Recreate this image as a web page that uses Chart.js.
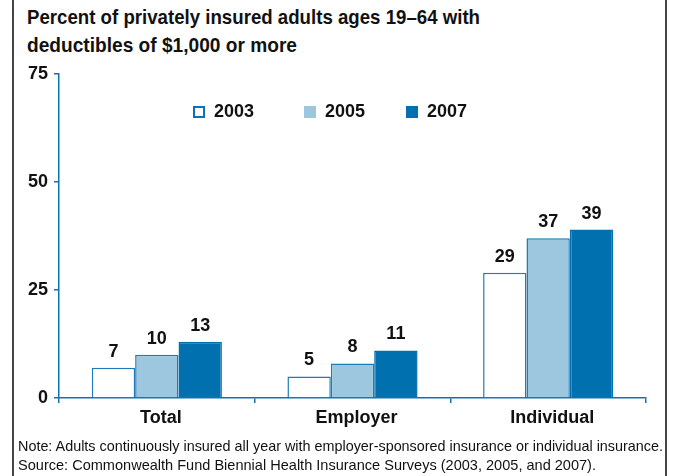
<!DOCTYPE html>
<html>
<head>
<meta charset="utf-8">
<script src="https://cdn.jsdelivr.net/npm/chart.js@4"></script>
<style>
  body { margin: 0; background: #fff; }
  #wrap { position: relative; width: 673px; height: 476px; overflow: hidden; }
  #frame { position: absolute; left: 12px; top: 0; width: 651px; height: 476px;
           border-left: 2px solid #444; border-right: 2px solid #444; }
  #chart { position: absolute; left: 0; top: 0; }
  .title { position: absolute; left: 27px; font: bold 21px "Liberation Sans", sans-serif; color: #111;
           white-space: nowrap; transform-origin: 0 0; }
  .note { position: absolute; left: 18px; font: 15px "Liberation Sans", sans-serif; color: #111;
          white-space: nowrap; transform-origin: 0 0; }
  .leg { position: absolute; top: 101px; font: bold 18px "Liberation Sans", sans-serif; color: #111; }
  .leg span.box { position: absolute; top: 5px; width: 12px; height: 12px; box-sizing: border-box; }
  .leg span.lbl { position: absolute; left: 21px; top: 0; }
</style>
</head>
<body>
<div id="wrap">
  <div id="frame"></div>
  <div class="title" style="top:5px" data-w="453">Percent of privately insured adults ages 19–64 with</div>
  <div class="title" style="top:33px" data-w="270">deductibles of $1,000 or more</div>
  <canvas id="chart" width="673" height="476"></canvas>
  <div id="legend"></div>
  <div class="note" style="top:437px" data-w="645">Note: Adults continuously insured all year with employer-sponsored insurance or individual insurance.</div>
  <div class="note" style="top:456px" data-w="578">Source: Commonwealth Fund Biennial Health Insurance Surveys (2003, 2005, and 2007).</div>
</div>
<script>
const categories = ['Total', 'Employer', 'Individual'];
const years = ['2003', '2005', '2007'];
const values2003 = [7, 5, 29];
const values2005 = [10, 8, 37];
const values2007 = [13, 11, 39];
const yTicks = [0, 25, 50, 75];

const axisBlue = '#1172b3';
const fills = ['#ffffff', '#9cc7df', '#0070ae'];
const borders = ['#1f7ab8', '#1f7ab8', '#0070ae'];
const series = [values2003, values2005, values2007];

// squeeze the text lines to the condensed width of the original
document.querySelectorAll('[data-w]').forEach(el => {
  const w = el.getBoundingClientRect().width;
  el.style.transform = 'scaleX(' + (parseFloat(el.dataset.w) / w) + ')';
});

// html legend
const legendX = [193, 304, 406];
const legend = document.getElementById('legend');
years.forEach((y, i) => {
  const d = document.createElement('div');
  d.className = 'leg';
  d.style.left = legendX[i] + 'px';
  const b = document.createElement('span');
  b.className = 'box';
  b.style.background = fills[i];
  b.style.border = (i === 0 ? '2px solid ' + axisBlue : 'none');
  const l = document.createElement('span');
  l.className = 'lbl';
  l.textContent = y;
  d.appendChild(b); d.appendChild(l);
  legend.appendChild(d);
});

const valueLabels = {
  id: 'valueLabels',
  afterDatasetsDraw(chart) {
    const ctx = chart.ctx;
    ctx.save();
    ctx.font = 'bold 18px "Liberation Sans", sans-serif';
    ctx.fillStyle = '#111';
    ctx.textAlign = 'center';
    ctx.textBaseline = 'alphabetic';
    chart.data.datasets.forEach((ds, i) => {
      chart.getDatasetMeta(i).data.forEach((bar, j) => {
        ctx.fillText(String(ds.data[j]), bar.x, bar.y - 11);
      });
    });
    ctx.restore();
  }
};

new Chart(document.getElementById('chart'), {
  type: 'bar',
  data: {
    labels: categories,
    datasets: years.map((y, i) => ({
      label: y,
      data: series[i],
      backgroundColor: fills[i],
      borderColor: borders[i],
      borderWidth: 1.5,
      categoryPercentage: 0.665,
      barPercentage: 1
    }))
  },
  options: {
    responsive: false,
    animation: false,
    layout: { padding: { top: 74, right: 27, left: 0, bottom: 0 } },
    plugins: { legend: { display: false }, tooltip: { enabled: false } },
    scales: {
      x: {
        grid: { offset: true, drawOnChartArea: false, drawTicks: true, tickLength: 5, color: axisBlue, lineWidth: 1.5 },
        border: { color: axisBlue, width: 1.5 },
        ticks: { color: '#111', padding: 4, labelOffset: 4,
                 font: { family: '"Liberation Sans", sans-serif', size: 18, weight: 'bold' } },
        afterFit(scale) { scale.height = 78; }
      },
      y: {
        min: 0, max: 75,
        afterBuildTicks(scale) { scale.ticks = yTicks.map(v => ({ value: v })); },
        grid: { drawOnChartArea: false, drawTicks: true, tickLength: 5, color: axisBlue, lineWidth: 1.5 },
        border: { color: axisBlue, width: 1.5 },
        ticks: { color: '#111', padding: 6,
                 font: { family: '"Liberation Sans", sans-serif', size: 18, weight: 'bold' } },
        afterFit(scale) { scale.width = 59; }
      }
    }
  },
  plugins: [valueLabels]
});
</script>
</body>
</html>
